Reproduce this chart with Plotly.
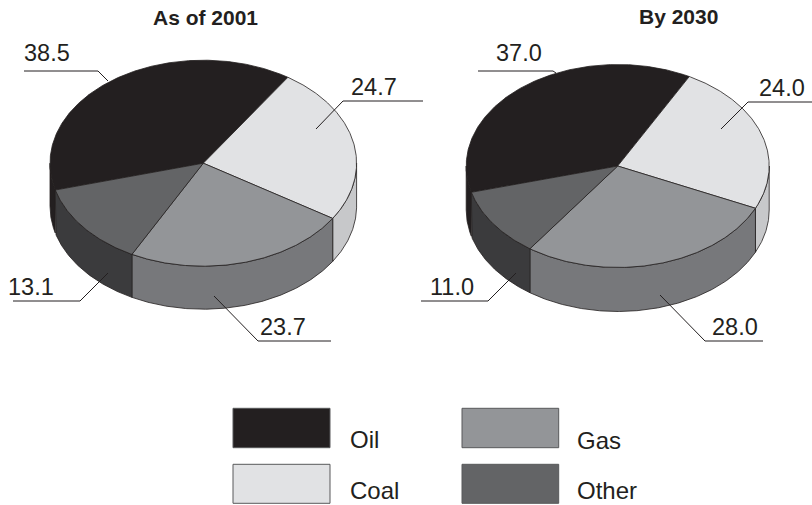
import numpy as np
import plotly.graph_objects as go

# Fuel shares, percent
fuels = ["Oil", "Coal", "Gas", "Other"]
share_2001 = [38.5, 24.7, 23.7, 13.1]
share_2030 = [37.0, 24.0, 28.0, 11.0]
titles = ["As of 2001", "By 2030"]

# Fill colours for the top face and the side wall of each slice
TOP = {"Oil": "#231f20", "Coal": "#e1e2e4", "Gas": "#939598", "Other": "#636466"}
SIDE = {"Oil": "#231f20", "Coal": "#c7c8ca", "Gas": "#77787b", "Other": "#3b3b3d"}
EDGE = "#231f20"
FONT = "Liberation Sans"

# Disc geometry in figure pixels; oil_end is where the Oil slice stops, clockwise from north
PIES = [
    {"cx": 203.3, "cy": 163.2, "rx": 153.3, "ry": 103.0, "depth": 43.0, "oil_end": 33.5},
    {"cx": 617.7, "cy": 166.0, "rx": 151.5, "ry": 101.5, "depth": 44.0, "oil_end": 28.2},
]

# Label anchors and leader polylines, in slice order
LABEL_XY = [
    [(47.3, 53), (374, 87), (283, 327), (31, 287)],
    [(519, 53), (781.7, 88), (735, 327), (452, 287)],
]
LEADERS = [
    [[(24, 71), (98, 71), (108, 81)], [(316, 129), (343, 101), (423, 101)],
     [(214, 296), (258, 341), (331, 341)], [(13, 301), (80, 301), (108, 273)]],
    [[(478, 71), (553, 71), (556, 73)], [(721, 129), (748, 102), (812, 102)],
     [(660, 295), (705, 341), (763, 341)], [(421, 301), (488, 301), (516, 273)]],
]
TITLE_XY = [(205, 17), (678.5, 16)]

# Legend layout: swatch box (x0, x1, y0, y1) and text anchor per fuel
SWATCH = {"Oil": (233, 330, 408.3, 447.7), "Coal": (233, 330, 464.3, 503.3),
          "Gas": (462, 558.7, 408.3, 447.7), "Other": (462, 558.7, 464.3, 503.3)}
SWATCH_TEXT = {"Oil": (347.7, 439), "Coal": (347.7, 490.8), "Gas": (575, 440), "Other": (575, 490.8)}


def rim(p, a0, a1, drop=0.0):
    """Points along the projected rim between two clockwise angles in degrees."""
    t = np.radians(np.linspace(a0, a1, max(2, int(abs(a1 - a0) * 2) + 1)))
    return p["cx"] + p["rx"] * np.sin(t), p["cy"] - p["ry"] * np.cos(t) + drop


def poly(x, y, fill, name, width=0.8, line=EDGE):
    return go.Scatter(x=list(x), y=list(y), mode="lines", fill="toself", fillcolor=fill,
                      line=dict(color=line, width=width), name=name, hoverinfo="name",
                      showlegend=False)


def slice_ranges(values, oil_end):
    # Oil ends at oil_end, wrapping past north; the remaining slices run on clockwise
    start = oil_end - values[0] * 3.6 + 360
    ranges = [(start, start + values[0] * 3.6)]
    start = oil_end
    for v in values[1:]:
        ranges.append((start, start + v * 3.6))
        start += v * 3.6
    return ranges


fig = go.Figure()
annotations = []


def text(x, y, s, size, bold=False, anchor="center"):
    annotations.append(dict(x=x, y=y, xref="x", yref="y", text=f"<b>{s}</b>" if bold else s,
                            showarrow=False, xanchor=anchor, yanchor="middle",
                            font=dict(family=FONT, size=size, color=EDGE)))


for k, (p, values) in enumerate(zip(PIES, [share_2001, share_2030])):
    ranges = slice_ranges(values, p["oil_end"])

    # Side wall: only the near half of the disc (90..270 degrees) faces the viewer
    for fuel, (a0, a1) in zip(fuels, ranges):
        lo, hi = max(a0, 90), min(a1, 270)
        if lo >= hi:
            continue
        xt, yt = rim(p, lo, hi)
        xb, yb = rim(p, hi, lo, p["depth"])
        fig.add_trace(poly(np.r_[xt, xb, xt[0]], np.r_[yt, yb, yt[0]], SIDE[fuel], fuel))

    # Top face wedges
    for fuel, (a0, a1) in zip(fuels, ranges):
        x, y = rim(p, a0, a1)
        fig.add_trace(poly(np.r_[p["cx"], x, p["cx"]], np.r_[p["cy"], y, p["cy"]], TOP[fuel], fuel))

    # Leader lines and value labels
    for v, (lx, ly), path in zip(values, LABEL_XY[k], LEADERS[k]):
        fig.add_trace(go.Scatter(x=[q[0] for q in path], y=[q[1] for q in path], mode="lines",
                                 line=dict(color=EDGE, width=1), hoverinfo="skip", showlegend=False))
        text(lx, ly, f"{v:.1f}", 23.5)

    text(TITLE_XY[k][0], TITLE_XY[k][1], titles[k], 21, bold=True)

# Legend swatches and captions
for fuel in fuels:
    x0, x1, y0, y1 = SWATCH[fuel]
    fig.add_trace(poly([x0, x1, x1, x0, x0], [y0, y0, y1, y1, y0], TOP[fuel], fuel, width=1, line="#58595b"))
    tx, ty = SWATCH_TEXT[fuel]
    text(tx, ty, fuel, 24, anchor="left")

fig.update_layout(
    width=812, height=505, margin=dict(l=0, r=0, t=0, b=0),
    paper_bgcolor="white", plot_bgcolor="white", annotations=annotations,
    xaxis=dict(range=[0, 812], visible=False, fixedrange=True),
    yaxis=dict(range=[505, 0], visible=False, fixedrange=True),
)
fig.write_html("out.html", config={"displayModeBar": False})
